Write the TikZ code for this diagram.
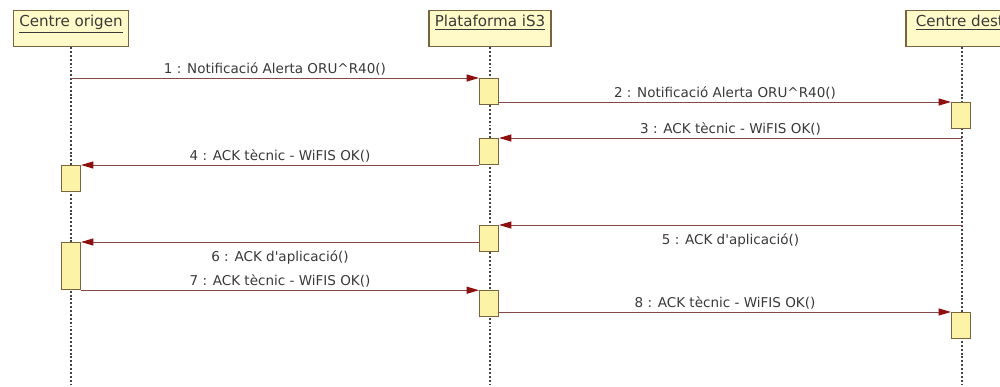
\documentclass[tikz,border=0pt]{standalone}
\usepackage{fontspec}
\setmainfont{DejaVu Sans}
\usepackage{tikz}
\usetikzlibrary{arrows.meta,positioning}
\definecolor{sqline}{HTML}{874848}
\definecolor{sqtip}{HTML}{8E0E0E}
\definecolor{sqfill}{HTML}{FFFAC8}
\definecolor{sqact}{HTML}{FDF3A6}
\definecolor{sqedge}{HTML}{7A6440}
\definecolor{sqtext}{HTML}{3A3A3A}
\definecolor{sqdots}{HTML}{444444}

\tikzset{
  objbox/.style={draw=sqedge,fill=sqfill,line width=0.7pt,minimum width=2.24cm,
    minimum height=0.72cm,inner ysep=2pt,text height=7pt,text depth=9pt,
    font=\fontsize{8.6}{10}\selectfont,text=sqtext,anchor=north},
  actbox/.style={draw=sqedge,fill=sqact,line width=0.7pt,minimum width=0.38cm,
    minimum height=0.52cm,inner sep=0pt,anchor=north},
  lifeline/.style={sqdots,line width=0.9pt,dash pattern=on 1.1pt off 1.1pt},
  msg/.style={sqline,line width=0.55pt,-{Triangle[length=7pt,width=4pt,color=sqtip]}},
  msgtext/.style={font=\fontsize{7.7}{9}\selectfont,text=sqtext,inner sep=1.5pt,midway}
}

\begin{document}
\begin{tikzpicture}[x=0.02cm,y=-0.02cm]
\clip (0,0) rectangle (1000,386);
\fill[white] (0,0) rectangle (1000,386);

% objects
\node[objbox] (orig) at (71,10) {\underline{Centre origen}};
\node[objbox] (plat) at (490,10) {\underline{Plataforma iS3}};
\node[objbox] (dest) at (962,10) {\underline{Centre destí}};

\coordinate (origEnd) at (71,390);
\coordinate (platEnd) at (490,390);
\coordinate (destEnd) at (962,390);
\draw[lifeline] (orig.south) -- (origEnd);
\draw[lifeline] (plat.south) -- (platEnd);
\draw[lifeline] (dest.south) -- (destEnd);

% activations
\node[actbox] (p1) at (489,78) {};
\node[actbox] (d1) at (961,102) {};
\node[actbox] (p2) at (489,138) {};
\node[actbox] (o1) at (71,165) {};
\node[actbox] (p3) at (489,225) {};
\node[actbox,minimum height=0.94cm] (o2) at (71,242) {};
\node[actbox] (p4) at (489,290) {};
\node[actbox] (d2) at (961,312) {};

% messages
\draw[msg] (p1.north west -| orig.south) -- (p1.north west)
  node[msgtext,above] {1 : Notificació Alerta ORU\textasciicircum R40()};
\draw[msg] (d1.north west -| p1.east) -- (d1.north west)
  node[msgtext,above] {2 : Notificació Alerta ORU\textasciicircum R40()};
\draw[msg] (p2.north east -| dest.south) -- (p2.north east)
  node[msgtext,above] {3 : ACK tècnic - WiFIS OK()};
\draw[msg] (o1.north east -| p2.west) -- (o1.north east)
  node[msgtext,above] {4 : ACK tècnic - WiFIS OK()};
\draw[msg] (p3.north east -| dest.south) -- (p3.north east)
  node[msgtext,below=3pt] {5 : ACK d\textquotesingle aplicació()};
\draw[msg] (o2.north east -| p3.west) -- (o2.north east)
  node[msgtext,below=3pt] {6 : ACK d\textquotesingle aplicació()};
\draw[msg] (o2.south east) -- (o2.south east -| p4.west)
  node[msgtext,above] {7 : ACK tècnic - WiFIS OK()};
\draw[msg] (d2.north west -| p4.east) -- (d2.north west)
  node[msgtext,above] {8 : ACK tècnic - WiFIS OK()};
\end{tikzpicture}
\end{document}
